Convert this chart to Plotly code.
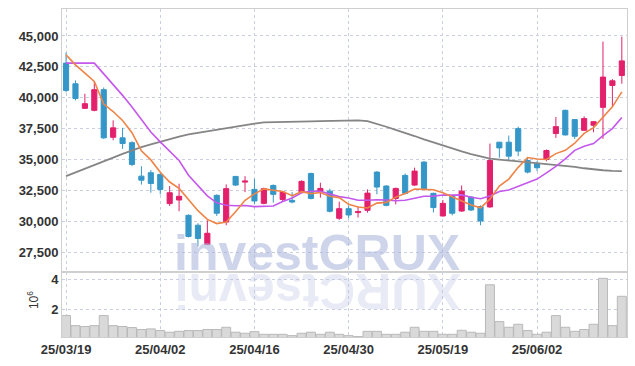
import plotly.graph_objects as go
import pandas as pd

dates = [
    "25/03/19", "25/03/20", "25/03/21", "25/03/24", "25/03/25", "25/03/26", "25/03/27", "25/03/28", "25/03/31",
    "25/04/01", "25/04/02", "25/04/03", "25/04/04", "25/04/07", "25/04/08", "25/04/09", "25/04/10", "25/04/11",
    "25/04/14", "25/04/15", "25/04/16", "25/04/17", "25/04/18", "25/04/21", "25/04/22", "25/04/23", "25/04/24",
    "25/04/25", "25/04/28", "25/04/29", "25/04/30", "25/05/02", "25/05/07", "25/05/08", "25/05/09", "25/05/12",
    "25/05/13", "25/05/14", "25/05/15", "25/05/16", "25/05/19", "25/05/20", "25/05/21", "25/05/22", "25/05/23",
    "25/05/26", "25/05/27", "25/05/28", "25/05/29", "25/05/30", "25/06/02", "25/06/04", "25/06/05", "25/06/09",
    "25/06/10", "25/06/11", "25/06/12", "25/06/13", "25/06/16", "25/06/17",
]

open_ = [42800, 41130, 39140, 38980, 40650, 36800, 36750, 36360, 33650, 33930,
         33790, 31430, 31720, 30480, 29680, 28140, 32100, 29940, 33630, 33170,
         32580, 31450, 32900, 31770, 31690, 32360, 33870, 32420, 32440, 30240,
         31020, 30700, 30890, 33980, 32850, 31850, 33710, 32930, 34790, 32260,
         30430, 32040, 30830, 31960, 31190, 31160, 36400, 36400, 37500, 34920,
         34680, 35000, 37100, 38980, 38230, 37360, 37770, 39220, 40990, 41800]
high = [43650, 41400, 40320, 41320, 40830, 38170, 37560, 36480, 34460, 34150,
        33870, 32850, 33040, 30560, 29840, 30080, 32180, 32980, 33650, 33650,
        33440, 32720, 32980, 32440, 32360, 33310, 33930, 33120, 32640, 31590,
        31290, 31190, 32580, 34060, 32930, 32720, 33870, 34340, 34870, 32310,
        31720, 32100, 32900, 32040, 31290, 36290, 36430, 36940, 37660, 35190,
        34860, 35810, 38440, 39030, 38280, 38490, 38090, 44540, 41510, 44940]
low = [40430, 39780, 39090, 38900, 36670, 36560, 35860, 34460, 32970, 32310,
       32180, 31240, 30810, 28690, 27960, 28090, 30430, 29680, 32850, 32360,
       31370, 31370, 31510, 31640, 31450, 32290, 31770, 31910, 30710, 30110,
       30230, 30300, 30700, 32180, 31210, 31370, 32180, 32850, 32560, 30710,
       30390, 30480, 30760, 30830, 29680, 31100, 35140, 34860, 35270, 33870,
       34060, 34860, 36750, 36940, 36670, 37340, 37210, 36670, 39300, 41130]
close = [40590, 39940, 39520, 40650, 36750, 37560, 36290, 34600, 33330, 33060,
         32580, 32310, 32020, 28770, 28610, 29030, 30650, 32640, 32930, 33250,
         31640, 32640, 32180, 32360, 31560, 33230, 31850, 32660, 30810, 31020,
         30510, 30780, 32280, 32770, 31290, 32660, 32260, 34060, 32640, 31110,
         31450, 30650, 32440, 30910, 30020, 34920, 35940, 35270, 35680, 33980,
         34330, 35730, 37660, 36990, 36880, 38310, 38060, 41670, 41370, 42980]

volume_m = [1.58, 0.91, 0.85, 0.91, 1.58, 0.91, 0.85, 0.78, 0.65, 0.69,
            0.58, 0.47, 0.53, 0.58, 0.58, 0.65, 0.65, 0.80, 0.47, 0.40,
            0.51, 0.33, 0.33, 0.33, 0.24, 0.40, 0.47, 0.33, 0.47, 0.33,
            0.24, 0.18, 0.53, 0.53, 0.33, 0.33, 0.47, 0.80, 0.53, 0.53,
            0.33, 0.33, 0.60, 0.47, 0.40, 3.64, 1.18, 0.80, 1.00, 0.58,
            0.33, 0.47, 1.58, 0.80, 0.53, 0.65, 1.00, 4.07, 0.91, 2.87]
volume = [v * 1e6 for v in volume_m]

# moving-average values at the start of the window (prior history not shown)
ma5_head = [43470, 42660, 41990, 41320]
ma10_head = [42800, 42800, 42800, 42800, 41930, 41100, 40190, 39250, 38230]
ma_long = [33650, 33940, 34250, 34540, 34850, 35150, 35460, 35760, 36000, 36220,
           36450, 36670, 36860, 37040, 37170, 37300, 37430, 37560, 37690, 37820,
           37900, 38000, 38030, 38050, 38060, 38080, 38090, 38100, 38110, 38130,
           38150, 38170, 38100, 37900, 37650, 37400, 37170, 36900, 36630, 36380,
           36130, 35870, 35650, 35440, 35240, 35070, 34990, 34920, 34860, 34780,
           34700, 34640, 34590, 34500, 34400, 34290, 34190, 34130, 34080, 34057]

cs = pd.Series(close, dtype=float)
ma5 = cs.rolling(5).mean().tolist()
ma10 = cs.rolling(10).mean().tolist()
ma5[:len(ma5_head)] = ma5_head
ma10[:len(ma10_head)] = ma10_head

price_ticks = [27500, 30000, 32500, 35000, 37500, 40000, 42500, 45000]
vol_ticks = [2e6, 4e6]
vol_ticktext = ["2", "4"]
date_ticks = [dates[i] for i in range(0, 60, 10)]

UP = "#e2206b"
DOWN = "#3597c8"
GRID = "#c9cee0"
FRAME = "#cfcfcf"
TXT = "#333333"
FONT = "Liberation Sans"

fig = go.Figure()
fig.add_trace(go.Candlestick(
    x=dates, open=open_, high=high, low=low, close=close,
    increasing=dict(line=dict(color=UP, width=1), fillcolor=UP),
    decreasing=dict(line=dict(color=DOWN, width=1), fillcolor=DOWN),
    whiskerwidth=0, xaxis="x", yaxis="y", hoverinfo="skip",
))
fig.add_trace(go.Scatter(x=dates, y=ma_long, mode="lines", line=dict(color="#858585", width=1.8), xaxis="x", yaxis="y"))
fig.add_trace(go.Scatter(x=dates, y=ma10, mode="lines", line=dict(color="#c457ec", width=1.6), xaxis="x", yaxis="y"))
fig.add_trace(go.Scatter(x=dates, y=ma5, mode="lines", line=dict(color="#ee8447", width=1.6), xaxis="x", yaxis="y"))
fig.add_trace(go.Bar(x=dates, y=volume, marker=dict(color="#d9d9d9", line=dict(color="#b9b9b9", width=1)),
                     xaxis="x2", yaxis="y2"))

axis_common = dict(showgrid=True, griddash="dot", gridcolor=GRID, gridwidth=1, zeroline=False,
                   showline=True, mirror=True, linecolor=FRAME, linewidth=1, ticks="",
                   automargin=False,
                   tickfont=dict(family=FONT, size=13, color=TXT, weight="bold"))

fig.update_layout(
    width=635, height=366,
    margin=dict(l=62, r=8, t=9, b=29),
    paper_bgcolor="white", plot_bgcolor="white",
    showlegend=False, bargap=0.05, boxgap=0.22,
    xaxis=dict(type="category", anchor="y", domain=[0, 1], range=[-0.43, 59.55],
               tickvals=date_ticks, showticklabels=False, rangeslider=dict(visible=False),
               **axis_common),
    xaxis2=dict(type="category", anchor="y2", domain=[0, 1], range=[-0.43, 59.55],
                tickvals=date_ticks, matches="x", **axis_common),
    yaxis=dict(domain=[0.198, 1], range=[25890, 47180], tickvals=price_ticks, tickformat=",",
               **axis_common),
    yaxis2=dict(domain=[0, 0.198], range=[150000, 4490000], tickvals=vol_ticks, ticktext=vol_ticktext,
                **axis_common),
    annotations=[
        dict(text="<b>investCRUX</b>", xref="paper", yref="paper", x=0.452, y=0.165,
             xanchor="center", yanchor="bottom", showarrow=False,
             font=dict(family=FONT, size=50, color="rgba(165,178,218,0.55)")),
        dict(text="<b>XURCtsevni</b>", xref="paper", yref="paper", x=0.452, y=0.232,
             xanchor="center", yanchor="top", showarrow=False, textangle=180,
             font=dict(family=FONT, size=50, color="rgba(185,194,224,0.33)")),
        dict(text="10<sup>6</sup>", xref="paper", yref="paper", x=-0.051, y=0.113,
             xanchor="center", yanchor="middle", showarrow=False, textangle=-90,
             font=dict(family=FONT, size=12, color=TXT)),
    ],
)

fig.write_html("out.html", config={"displayModeBar": False},
               post_script="document.body.style.margin='0';document.body.style.overflow='hidden';")
